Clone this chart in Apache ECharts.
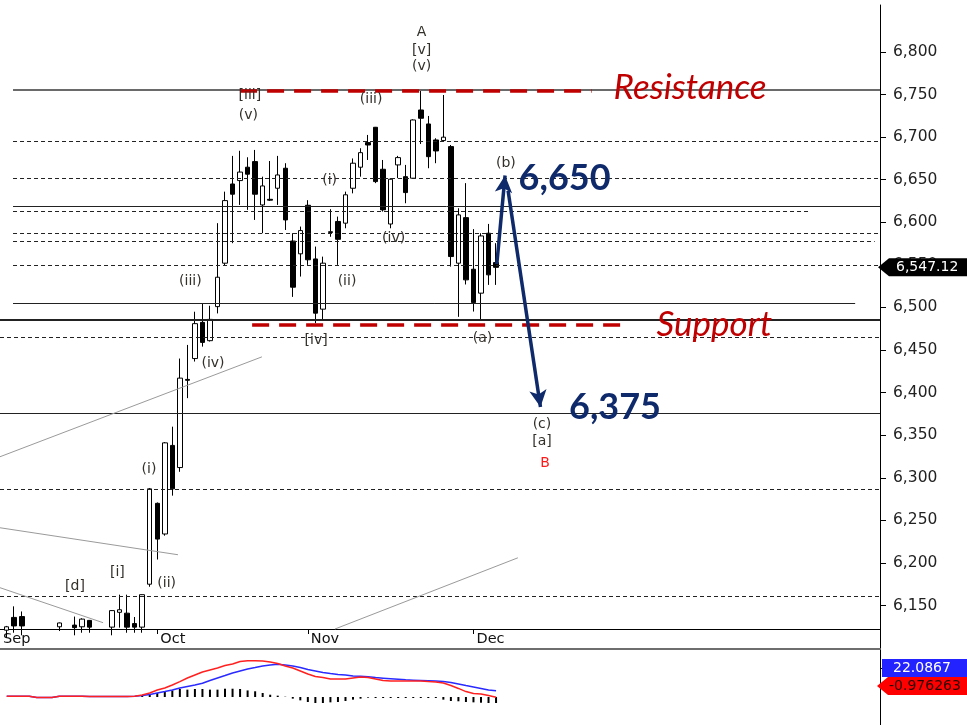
<!DOCTYPE html>
<html>
<head>
<meta charset="utf-8">
<script src="https://cdn.jsdelivr.net/npm/echarts@6/dist/echarts.min.js"></script>
<style>
html, body { margin: 0; padding: 0; background: #fff; }
#main { width: 967px; height: 725px; }
</style>
</head>
<body>
<div id="main"></div>
<script>
// one row per trading day: [open, close, low, high]; x = day slot
var ohlc = [
    [6121, 6125, 6112, 6126], [6136, 6126, 6118, 6149], [6137, 6126, 6115, 6143],
    [6112, 6102, 6094, 6118], [6102, 6096, 6088, 6110], [6096, 6106, 6090, 6112],
    [6106, 6114, 6100, 6119], [6125, 6129.5, 6120, 6130], [6118, 6110, 6104, 6120],
    [6127, 6124, 6115, 6137], [6125, 6134, 6118, 6135], [6132.5, 6124.6, 6118, 6133],
    [6118, 6110, 6102, 6121], [6110, 6117, 6104, 6120], [6124.6, 6144, 6115, 6144.5],
    [6142, 6145, 6124, 6162.7], [6141, 6124.6, 6118, 6162.7], [6128.8, 6124.6, 6118, 6136.5],
    [6124.6, 6162.7, 6118, 6163], [6175, 6287, 6172, 6288], [6270, 6228, 6204, 6271],
    [6234, 6341, 6232, 6342], [6338, 6287, 6279, 6360], [6312, 6417, 6307, 6440],
    [6415.5, 6414.5, 6393.5, 6456], [6440, 6481, 6436.5, 6495], [6482.5, 6459, 6454, 6505],
    [6461, 6486, 6460, 6502], [6501, 6535.5, 6493, 6599], [6552, 6625.5, 6549, 6636],
    [6645, 6633, 6575.5, 6678], [6649, 6659, 6620.4, 6684], [6664.7, 6656.5, 6614.6, 6676.4],
    [6671.3, 6633, 6602.8, 6685], [6620.4, 6642.7, 6587.2, 6653.6], [6627, 6626, 6625, 6672],
    [6640, 6655.6, 6620.4, 6678], [6663.5, 6602.8, 6591, 6669.4], [6578, 6523.8, 6512.4, 6587.2],
    [6563, 6590.3, 6536.3, 6595], [6620, 6556, 6550, 6626], [6557, 6493.3, 6481.6, 6571.5],
    [6498, 6552, 6485.5, 6559.7], [6588, 6589, 6583, 6615.4], [6601, 6580, 6550, 6606.7],
    [6599, 6632.3, 6593, 6636], [6640, 6669.4, 6634, 6675], [6664.7, 6681.8, 6653.6, 6687],
    [6693.6, 6690.8, 6673.2, 6702.6], [6711.6, 6647.8, 6646, 6712], [6662.3, 6614.6, 6612.6, 6673.2],
    [6598, 6650.6, 6593, 6651.8], [6667.4, 6676, 6651.8, 6678], [6653.6, 6634.9, 6622.4, 6667.4],
    [6651.8, 6720.2, 6651, 6721], [6731.9, 6722.2, 6692, 6754.2], [6715.5, 6677.1, 6663.5, 6724.9],
    [6696.7, 6683.8, 6669.4, 6698.7], [6696, 6700, 6695, 6749.5], [6688.9, 6559.8, 6548, 6690.8],
    [6552, 6608.7, 6489, 6616.5], [6605.5, 6532.4, 6527, 6646], [6544.9, 6505.7, 6495.2, 6592],
    [6516.8, 6584, 6485.5, 6587.2], [6587.2, 6538.3, 6526.5, 6598.1], [6552.7, 6547.12, 6526.5, 6575.5]
];

// oscillator panel
var redLine = [3, 3, 3, 3, -2, -2, -2, 3, 3, 3, 3, 2, 2, 2, 2, 2, 2, 3,
    7, 14, 24.5, 31.5, 42, 54, 66.5, 77, 87.5, 94.5,
    101.5, 110, 115.5, 124, 127, 127, 126, 122.5, 117, 108.5,
    101.5, 91, 80.5, 72, 68, 63, 63, 63, 66.5, 70,
    68, 63, 57.5, 56, 56, 56, 56, 56, 54, 52.5,
    49, 40, 30, 19, 12, 10.5, 5, -0.976263];
var blueLine = [3, 3, 3, 3, -2, -2, -2, 3, 3, 3, 3, 2, 2, 2, 2, 2, 2, 3,
    5, 8.8, 14, 19, 24.5, 31.5, 36.8, 42, 48, 57.8,
    66.5, 75, 84, 91, 98, 103, 108.5, 112, 114.5, 112,
    108.5, 103, 96, 91, 86, 82, 79, 77, 73.5, 72.5,
    71, 68, 66, 64, 62, 60, 59, 58, 57, 56,
    54, 51, 45.5, 40, 35, 30, 24.5, 22.0867];
var histogram = [0, 0, 0, 0, 0, 0, 0, 0, 0, 0, 0, 0, 0, 0, 0, 0, 0, 0,
    4.7, 10.5, 14, 20, 23, 28, 25.7, 28, 28, 25.7,
    25.7, 29, 29, 28, 23, 20, 14, 8, 4.7, 1,
    -5.8, -11.7, -17.5, -21, -21, -18.7, -17.5, -14, -9.3, -5.8,
    -2.3, -3.5, -3.5, -3.5, -3.5, -3.5, -3.5, -3.5, -3.5, -3.5,
    -9.3, -14, -15, -17.5, -18.7, -20, -21, -21];

var monthNames = ['Sep', 'Oct', 'Nov', 'Dec'];
var monthSlots = [-0.88, 20, 40, 62];
var priceTicks = [6150, 6200, 6250, 6300, 6350, 6400, 6450, 6500, 6550, 6600, 6650, 6700, 6750, 6800];
var oscTicks = [100];
var lastPrice = 6547.12;

// horizontal levels and where each one starts / ends (day slots)
var levels = [6755.4, 6695.5, 6652, 6619.3, 6613.4, 6587.6, 6578.2, 6549, 6505.4, 6485.5, 6465.5, 6376.3, 6287.1, 6160.4];
var levelFrom = [0.84, 0.84, 0.84, 0.84, 0.84, 0.84, 0.84, 0.84, 0.84, -0.89, -0.89, -0.89, -0.89, -0.89];
var levelTo = [116, 116, 116, 116, 106.7, 116, 115.3, 116, 112.7, 116, 116, 116, 116, 116];
var levelKind = ['grey', 'dash', 'dash', 'solid', 'dash', 'dash', 'dash', 'dash', 'solid', 'thick', 'dash', 'solid', 'dash', 'dash'];

var resistance = { value: 6754.3, from: 31, to: 77.7 };
var support = { value: 6479.6, from: 32.6, to: 82.5 };

var trendLines = [
    [[-0.89, 6324.7], [33.9, 6442]],
    [[-0.89, 6241.3], [22.75, 6209.6]],
    [[-0.89, 6170.9], [12.8, 6129.8]],
    [[43.6, 6122.4], [67.9, 6206]]
];

var projection = [
    [[65.1, 6551], [66.2, 6655]],
    [[66.6, 6637], [70.9, 6383]]
];

var waveText = ['A', '[v]', '(v)', '[iii]', '(v)', '(iii)', '(i)', '(iv)', '(ii)', '[iv]', '(iii)', '(iv)',
    '(i)', '(ii)', '[i]', '[d]', '(b)', '(a)', '(c)', '[a]', 'B'];
var waveAt = [[55.1, 6822.7], [55.1, 6801.5], [55.1, 6783.6], [32.3, 6749.5], [32.1, 6726], [48.4, 6744.8],
    [42.9, 6649.8], [51.4, 6581.3], [45.2, 6530.4], [41.1, 6460.8], [24.4, 6531.2], [27.4, 6433.8],
    [18.9, 6309.4], [21.25, 6176.4], [14.7, 6189], [9.07, 6173], [66.3, 6669.4], [63.2, 6464],
    [71.1, 6363], [71.1, 6342.6], [71.5, 6317.2]];

var callText = ['Resistance', 'Support', '6,650', '6,375'];
var callAt = [[90.77, 6758.3], [94.0, 6480.2], [74.1, 6652], [80.8, 6382.7]];

var X_MIN = -0.89, X_MAX = 116;
var AXIS_FONT = 'DejaVu Sans';

function fmt(v) {
    return Math.round(v).toString().replace(/\B(?=(\d{3})+(?!\d))/g, ',');
}

function levelStyle(kind) {
    if (kind == 'grey') return { color: '#6a6a6a', width: 2, type: 'solid' };
    if (kind == 'thick') return { color: '#222', width: 2, type: 'solid' };
    if (kind == 'solid') return { color: '#222', width: 1, type: 'solid' };
    return { color: '#222', width: 1, type: [4, 3] };
}

var levelLines = [];
for (var i = 0; i < levels.length; i++) {
    levelLines.push([
        { coord: [levelFrom[i], levels[i]], lineStyle: levelStyle(levelKind[i]) },
        { coord: [levelTo[i], levels[i]] }
    ]);
}

var redDash = { color: '#c00000', width: 3.5, type: [17, 10] };
var srLines = [
    [{ coord: [resistance.from, resistance.value], lineStyle: redDash }, { coord: [resistance.to, resistance.value] }],
    [{ coord: [support.from, support.value], lineStyle: redDash }, { coord: [support.to, support.value] }]
];

var trendData = trendLines.map(function (t) {
    return [{ coord: t[0] }, { coord: t[1] }];
});

var arrowData = projection.map(function (p) {
    return [{ coord: p[0] }, { coord: p[1] }];
});

var waveData = waveAt.map(function (p, i) {
    var item = { value: p, label: { formatter: waveText[i] } };
    if (waveText[i] == 'B') item.label.color = '#ff1a1a';
    return item;
});

var callStyles = [
    { color: '#c00000', fontStyle: 'italic', fontWeight: 'normal', fontSize: 35 },
    { color: '#c00000', fontStyle: 'italic', fontWeight: 'normal', fontSize: 35 },
    { color: '#0f2a6b', fontStyle: 'normal', fontWeight: 'bold', fontSize: 36 },
    { color: '#0f2a6b', fontStyle: 'normal', fontWeight: 'bold', fontSize: 36 }
];
var callData = callAt.map(function (p, i) {
    var s = callStyles[i];
    return {
        value: p,
        label: {
            formatter: callText[i], color: s.color, fontStyle: s.fontStyle,
            fontWeight: s.fontWeight, fontSize: s.fontSize
        }
    };
});

var chart = echarts.init(document.getElementById('main'));

var option = {
    animation: false,
    backgroundColor: '#fff',
    grid: [
        { left: 0, right: 87, top: 5, bottom: 96 },
        { left: 0, right: 87, top: 649, bottom: 0 },
        { left: 0, right: 87, top: 8, bottom: 0 }
    ],
    xAxis: [
        {
            type: 'value', gridIndex: 0, min: X_MIN, max: X_MAX,
            axisLine: { onZero: false, lineStyle: { color: '#000', width: 1 } },
            axisTick: { show: true, customValues: monthSlots.slice(1), length: 5, lineStyle: { color: '#000' } },
            axisLabel: {
                customValues: monthSlots, align: 'left', margin: 3, padding: [0, 0, 0, 3],
                fontSize: 14.5, color: '#111', fontFamily: AXIS_FONT,
                formatter: function (v) {
                    var best = 0;
                    for (var k = 0; k < monthSlots.length; k++) {
                        if (Math.abs(monthSlots[k] - v) < Math.abs(monthSlots[best] - v)) best = k;
                    }
                    return monthNames[best];
                }
            },
            splitLine: { show: false }
        },
        {
            type: 'value', gridIndex: 1, min: X_MIN, max: X_MAX, position: 'top',
            axisLine: { onZero: false, lineStyle: { color: '#6e6e6e', width: 2 } },
            axisTick: { show: false }, axisLabel: { show: false }, splitLine: { show: false }
        },
        { type: 'value', gridIndex: 2, min: 0, max: 1, show: false }
    ],
    yAxis: [
        {
            type: 'value', gridIndex: 0, position: 'right', min: 6122.4, max: 6855.2,
            axisLine: { show: true, onZero: false, lineStyle: { color: '#000' } },
            axisTick: { show: true, customValues: priceTicks, length: 6, lineStyle: { color: '#000' } },
            axisLabel: {
                customValues: priceTicks, formatter: fmt, margin: 13,
                fontSize: 15.5, color: '#222', fontFamily: AXIS_FONT
            },
            splitLine: { show: false }
        },
        {
            type: 'value', gridIndex: 1, position: 'right', min: -98, max: 168,
            axisLine: { show: true, onZero: false, lineStyle: { color: '#000' } },
            axisTick: { show: true, customValues: oscTicks, length: 6, lineStyle: { color: '#000' } },
            axisLabel: {
                customValues: oscTicks, margin: 13,
                fontSize: 15.5, color: '#222', fontFamily: AXIS_FONT
            },
            splitLine: { show: false }
        },
        {
            type: 'value', gridIndex: 2, position: 'right', min: 0, max: 1,
            axisLine: { show: true, onZero: false, lineStyle: { color: '#000' } },
            axisTick: { show: false }, axisLabel: { show: false }, splitLine: { show: false }
        }
    ],
    series: [
        {
            name: 'levels', type: 'line', xAxisIndex: 0, yAxisIndex: 0, data: [], z: 1,
            markLine: {
                silent: true, animation: false, symbol: ['none', 'none'],
                label: { show: false }, data: levelLines
            }
        },
        {
            name: 'trend', type: 'line', xAxisIndex: 0, yAxisIndex: 0, data: [], z: 1,
            markLine: {
                silent: true, animation: false, symbol: ['none', 'none'],
                label: { show: false },
                lineStyle: { color: '#9a9a9a', width: 1, type: 'solid' },
                data: trendData
            }
        },
        {
            name: 'price', type: 'candlestick', xAxisIndex: 0, yAxisIndex: 0, z: 3,
            data: ohlc.map(function (d, i) { return [i, d[0], d[1], d[2], d[3]]; }),
            encode: { x: 0, y: [1, 2, 3, 4] },
            barWidth: 5,
            itemStyle: { color: '#fff', color0: '#000', borderColor: '#000', borderColor0: '#000', borderWidth: 1 }
        },
        {
            name: 'sr', type: 'line', xAxisIndex: 0, yAxisIndex: 0, data: [], z: 4,
            markLine: {
                silent: true, animation: false, symbol: ['none', 'none'],
                label: { show: false }, data: srLines
            }
        },
        {
            name: 'projection', type: 'line', xAxisIndex: 0, yAxisIndex: 0, data: [], z: 6,
            markLine: {
                silent: true, animation: false, symbol: ['none', 'arrow'], symbolSize: [13, 17],
                label: { show: false },
                lineStyle: { color: '#0f2a6b', width: 3.5, type: 'solid' },
                itemStyle: { color: '#0f2a6b' },
                data: arrowData
            }
        },
        {
            name: 'waves', type: 'scatter', xAxisIndex: 0, yAxisIndex: 0, z: 7,
            symbolSize: 0, silent: true, itemStyle: { opacity: 1 },
            label: { show: true, position: 'inside', color: '#33302a', fontSize: 14, fontFamily: AXIS_FONT },
            data: waveData
        },
        {
            name: 'callouts', type: 'scatter', xAxisIndex: 0, yAxisIndex: 0, z: 7,
            symbolSize: 0, silent: true, clip: false, itemStyle: { opacity: 1 },
            label: { show: true, position: 'inside', fontFamily: 'Lato' },
            data: callData
        },
        {
            name: 'hist', type: 'bar', xAxisIndex: 1, yAxisIndex: 1, barWidth: 2,
            itemStyle: { color: '#000' },
            data: histogram.map(function (v, i) { return [i, v]; })
        },
        {
            name: 'blue', type: 'line', xAxisIndex: 1, yAxisIndex: 1, showSymbol: false,
            lineStyle: { color: '#2a2aff', width: 1.5 },
            data: blueLine.map(function (v, i) { return [i, v]; })
        },
        {
            name: 'red', type: 'line', xAxisIndex: 1, yAxisIndex: 1, showSymbol: false,
            lineStyle: { color: '#ff2020', width: 1.5 },
            data: redLine.map(function (v, i) { return [i, v]; })
        }
    ]
};

chart.setOption(option);

// value tags on the right-hand axis
var yLast = chart.convertToPixel({ yAxisIndex: 0 }, lastPrice);
var oscTop = chart.convertToPixel({ yAxisIndex: 1 }, 168);
var blueTop = oscTop + 10;
var redMid = oscTop + 37;

function tagText(x, y, txt, fill) {
    return {
        type: 'text', x: x, y: y, z: 100,
        style: { text: txt, fill: fill, font: '14px "DejaVu Sans"', verticalAlign: 'middle', align: 'left' }
    };
}

chart.setOption({
    graphic: [
        {
            type: 'polygon', z: 99,
            shape: { points: [[878, yLast], [889, yLast - 9], [967, yLast - 9], [967, yLast + 9], [889, yLast + 9]] },
            style: { fill: '#000' }
        },
        tagText(896, yLast, fmt(6547) + '.12', '#fff'),
        {
            type: 'rect', z: 99,
            shape: { x: 882, y: blueTop, width: 85, height: 18 },
            style: { fill: '#2323ff' }
        },
        tagText(893, blueTop + 9, blueLine[blueLine.length - 1].toFixed(4), '#fff'),
        {
            type: 'polygon', z: 99,
            shape: { points: [[877, redMid], [888, redMid - 9], [967, redMid - 9], [967, redMid + 9], [888, redMid + 9]] },
            style: { fill: '#ff0000' }
        },
        tagText(889, redMid, redLine[redLine.length - 1].toFixed(6), '#2a0000')
    ]
});
</script>
</body>
</html>
